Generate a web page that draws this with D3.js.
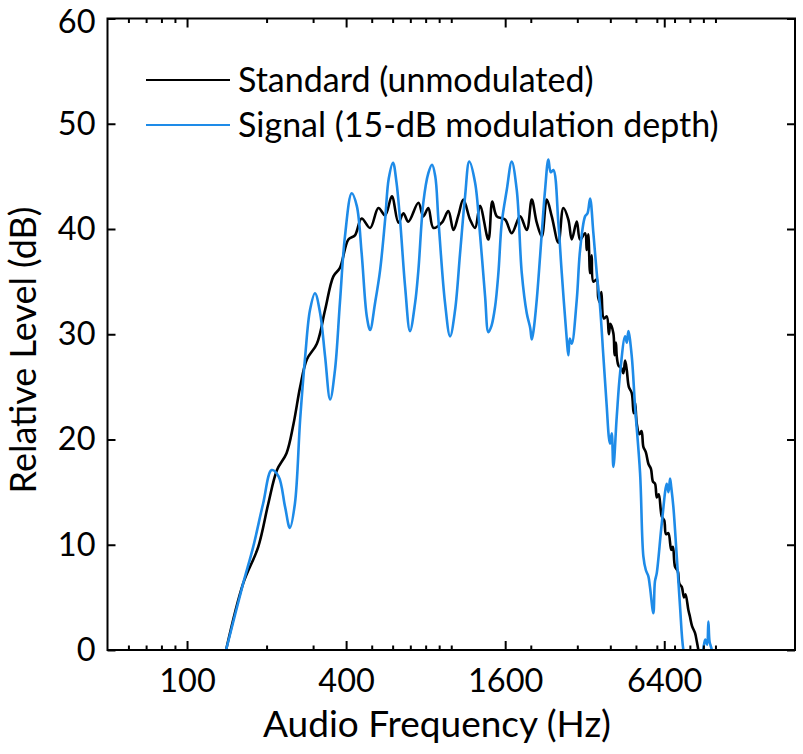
<!DOCTYPE html>
<html>
<head>
<meta charset="utf-8">
<script src="https://cdn.jsdelivr.net/npm/d3@7"></script>
<style>
  html, body { margin: 0; padding: 0; background: #fff; }
  svg { display: block; font-family: Lato, "Open Sans", sans-serif; }
</style>
</head>
<body>
<svg id="chart" width="803" height="754"></svg>
<script>
// ---- Data ----
const seriesNames = ["Standard (unmodulated)", "Signal (15-dB modulation depth)"];

const standardFreq = [140.5,163,186,203,219,238,253,268,284,310,333,358,379,408,432,458,493,530,562,596,631,659,688,751,784,819,856,921,975,1019,1064,1111,1178,1231,1285,1382,1430,1487,1598,1694,1822,1931,2017,2107,2201,2299,2401,2543,2657,2775,2859,2986,3073,3210,3257,3300,3353,3400,3450,3554,3600,3658,3700,3780,3878,3950,4000,4108,4150,4200,4231,4300,4400,4482,4550,4617,4700,4822,4900,4963,5037,5150,5250,5335,5450,5573,5700,5800,5907,6000,6100,6262,6400,6500,6633,6800,6900,7032,7200,7300,7455,7600,7700,7897,8000,8150,8372,8500,8616];
const standardDb = [0,6.3,9.8,13.9,17.1,18.7,21.5,25.0,27.6,29.1,32.3,35.5,36.3,39.0,39.4,41.0,40.1,42.0,41.3,43.1,40.6,41.5,40.7,42.5,41.2,42.0,40.1,40.6,41.7,39.9,41.3,42.8,40.9,40.1,42.2,39.0,42.6,41.2,40.9,39.6,41.2,39.9,42.8,40.6,39.3,42.8,41.2,38.7,42.0,40.9,39.0,40.7,39.0,39.6,38.0,39.5,35.8,37.5,35.0,35.2,33.5,33.0,34.0,31.5,31.7,30.0,31.0,30.1,28.0,29.2,27.9,27.0,26.8,26.3,27.5,26.6,25.0,24.4,22.5,23.5,21.5,20.5,20.8,19.3,18.8,17.7,17.2,16.0,15.8,14.5,14.8,12.7,12.3,11.0,11.1,9.5,9.8,7.9,7.5,6.3,6.0,5.0,5.3,3.8,3.2,2.3,1.6,0.8,0];

const signalFreq = [140.5,163,178,194,209,222,235,245,256,268,280,292,305,319,333,348,363,379,396,420,439,458,479,493,515,538,562,580,602,620,640,669,698,730,751,784,819,846,870,894,947,990,1034,1080,1128,1170,1231,1285,1343,1382,1420,1465,1508,1553,1622,1694,1770,1849,1931,1990,2017,2050,2107,2169,2265,2331,2380,2435,2543,2620,2737,2775,2810,2859,2986,3073,3210,3280,3353,3451,3554,3658,3765,3878,3950,3991,4050,4108,4231,4355,4549,4620,4682,4822,4963,5184,5335,5450,5573,5650,5821,5900,5995,6262,6541,6640,6732,6800,6929,7137,7345,7560,8000,8800,8976,9150,9300,9401,9500,9684,9800];
const signalDb = [0,6.3,9.8,13.9,17.1,16.5,13.6,11.6,13.9,21.9,27.9,32.3,33.9,32.0,27.9,23.8,26.6,33.0,39.3,43.4,42.2,37.7,31.7,30.4,33.0,36.1,40.9,44.8,46.3,44.5,40.9,34.5,30.3,33.0,36.1,42.5,45.3,46.1,45.0,40.9,33.0,29.8,32.3,37.7,43.1,46.4,44.4,39.5,33.6,30.2,30.8,32.6,35.8,40.6,43.7,46.4,43.7,35.8,32.0,30.6,29.5,30.4,33.3,37.4,43.7,46.6,45.4,45.6,40.6,35.8,29.5,28.0,29.6,29.1,33.3,38.0,41.2,41.5,42.9,39.6,35.8,32.6,27.9,23.1,20.2,19.6,20.6,17.4,22.2,26.3,29.8,29.2,30.3,27.9,23.1,16.8,8.9,7.6,7.0,6.0,3.5,6.5,7.3,12.0,15.8,15.0,16.3,15.5,13.6,8.9,4.1,0,-3,-1,0,1.0,0.5,2.7,0.8,0,-2];

const majorTicksX = [100, 400, 1600, 6400];
const minorTicksX = [60,70,80,90,200,300,500,600,700,800,900,1000,2000,3000,4000,5000,6000,7000,8000,9000,10000];
const ticksY = [0,10,20,30,40,50,60];
const xTitle = "Audio Frequency (Hz)";
const yTitle = "Relative Level (dB)";
const colors = ["#000000", "#1E8BE8"];

// ---- Layout ----
const mLeft = 107.5, mRight = 795, mTop = 18.5, mBottom = 650;
const svg = d3.select("#chart");

const x = d3.scaleLog().domain([50, 20000]).range([mLeft, mRight]);
const y = d3.scaleLinear().domain([0, 60]).range([mBottom, mTop]);

const standard = standardFreq.map((f, i) => ({ f, v: standardDb[i] }));
const signal = signalFreq.map((f, i) => ({ f, v: signalDb[i] }));

svg.append("clipPath").attr("id", "plotclip")
  .append("rect").attr("x", mLeft).attr("y", mTop)
  .attr("width", mRight - mLeft).attr("height", mBottom - mTop);

const line = d3.line().x(d => x(d.f)).y(d => y(d.v)).curve(d3.curveCatmullRom.alpha(0.5));

const plot = svg.append("g").attr("clip-path", "url(#plotclip)");
plot.append("path").datum(standard)
  .attr("fill", "none").attr("stroke", colors[0]).attr("stroke-width", 2.6)
  .attr("stroke-linejoin", "round").attr("d", line);
plot.append("path").datum(signal)
  .attr("fill", "none").attr("stroke", colors[1]).attr("stroke-width", 2.6)
  .attr("stroke-linejoin", "round").attr("d", line);

// ---- Axes ----
const fs = 32.5;
function styleAxis(g) {
  g.select(".domain").remove();
  g.selectAll(".tick line").attr("stroke", "#000").attr("stroke-width", 2);
  g.selectAll(".tick text").attr("fill", "#000").attr("font-size", fs)
    .attr("font-family", "Lato, 'Open Sans', sans-serif");
}

svg.append("g").attr("transform", `translate(0,${mBottom})`)
  .call(d3.axisBottom(x).tickValues(minorTicksX).tickSize(-4.5).tickFormat(""))
  .call(styleAxis);
svg.append("g").attr("transform", `translate(0,${mBottom})`)
  .call(d3.axisBottom(x).tickValues(majorTicksX).tickSize(-9).tickPadding(19).tickFormat(d3.format("d")))
  .call(styleAxis);
svg.append("g").attr("transform", `translate(0,${mTop})`)
  .call(d3.axisTop(x).tickValues(minorTicksX).tickSize(-4.5).tickFormat(""))
  .call(styleAxis);
svg.append("g").attr("transform", `translate(0,${mTop})`)
  .call(d3.axisTop(x).tickValues(majorTicksX).tickSize(-9).tickFormat(""))
  .call(styleAxis);
const yAxisG = svg.append("g").attr("transform", `translate(${mLeft},0)`)
  .call(d3.axisLeft(y).tickValues(ticksY).tickSize(-8).tickPadding(12).tickFormat(d3.format("d")))
  .call(styleAxis);
yAxisG.selectAll(".tick text").filter(d => d === 60).attr("dy", "0.42em");
svg.append("g").attr("transform", `translate(${mRight},0)`)
  .call(d3.axisRight(y).tickValues(ticksY).tickSize(-8).tickFormat(""))
  .call(styleAxis);

// frame
svg.append("rect").attr("x", mLeft).attr("y", mTop)
  .attr("width", mRight - mLeft).attr("height", mBottom - mTop)
  .attr("fill", "none").attr("stroke", "#000").attr("stroke-width", 2);

// titles
svg.append("text").attr("x", 437).attr("y", 737)
  .attr("text-anchor", "middle").attr("font-size", 37).attr("fill", "#000")
  .text(xTitle);
svg.append("text")
  .attr("transform", `translate(36,350) rotate(-90)`)
  .attr("text-anchor", "middle").attr("font-size", 36).attr("fill", "#000")
  .text(yTitle);

// legend
const legendY = [80, 125];
seriesNames.forEach((name, i) => {
  svg.append("line").attr("x1", 146).attr("x2", 230)
    .attr("y1", legendY[i]).attr("y2", legendY[i])
    .attr("stroke", colors[i]).attr("stroke-width", 2.2);
  svg.append("text").attr("x", 238).attr("y", legendY[i] + 3)
    .attr("dominant-baseline", "middle").attr("font-size", 34).attr("fill", "#000")
    .text(name);
});
</script>
</body>
</html>
